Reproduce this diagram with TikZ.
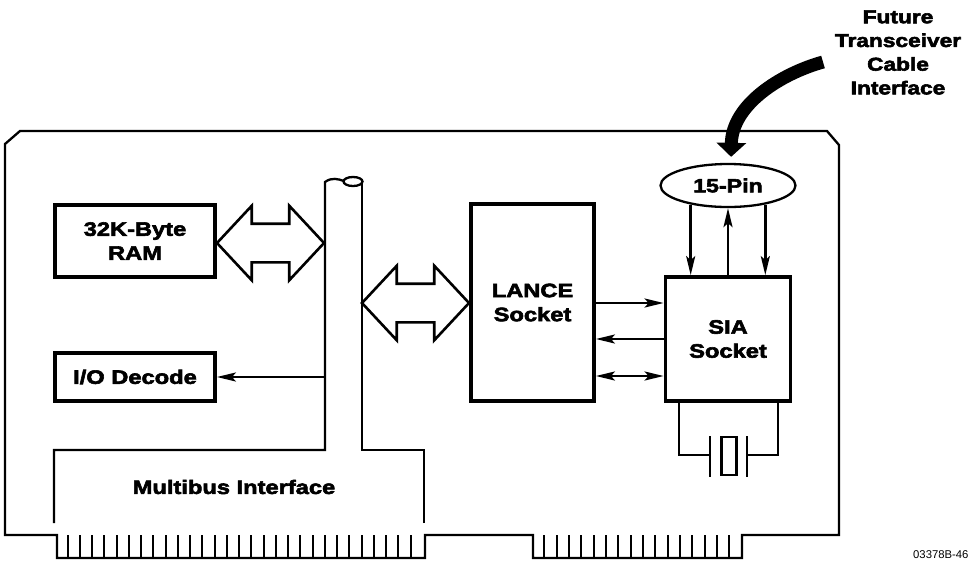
\documentclass[tikz,border=0pt]{standalone}
\usepackage{fontspec}
\setmainfont{Liberation Sans}[BoldFeatures={FakeBold=3,FakeStretch=1.22}]
\usetikzlibrary{arrows.meta,shapes.geometric,shapes.arrows}
\tikzset{
  block/.style={rectangle,draw=black,line width=3.8pt,fill=white,
                font=\fontsize{19.4}{24}\selectfont\bfseries,align=center},
  busarrow/.style={double arrow,draw=black,line width=2.6pt,fill=white,inner sep=0pt,
                   text height=36pt,text depth=0pt,
                   double arrow head extend=18pt,double arrow tip angle=94},
  sig/.style={line width=2.5pt,-{Stealth[length=19pt,width=9pt,inset=4pt]}},
  sigboth/.style={line width=2.5pt,{Stealth[length=19pt,width=9pt,inset=4pt]}-{Stealth[length=19pt,width=9pt,inset=4pt]}},
  edge/.style={line width=2.3pt,line join=miter},
  lead/.style={line width=2pt},
}
\begin{document}
\begin{tikzpicture}[x=1pt,y=-1pt]
  \useasboundingbox (0,0) rectangle (968,560);

  %% Board outline with the two edge tabs
  \draw[edge] (20,131) -- (827,131) -- (839,145) -- (839,535) -- (742,535)
    -- (742,558) -- (533,558) -- (533,535) -- (425,535) -- (425,558)
    -- (57,558) -- (57,535) -- (5,535) -- (5,144) -- cycle;

  %% Edge fingers
  \foreach \i in {0,...,28}
    \draw[lead] ({67.7+12.25*\i},535) -- ({67.7+12.25*\i},558);
  \foreach \i in {0,...,15}
    \draw[lead] ({544.3+12.33*\i},535) -- ({544.3+12.33*\i},558);

  %% Bus running up from the Multibus connector
  \draw[edge] (54,523) -- (54,450) -- (325,450) -- (325,182)
    .. controls (332,177) and (338,179) .. (344,181);
  \draw[edge] (424,523) -- (424,450) -- (362,450) -- (362,181);
  \draw[edge] (353,181.5) ellipse [x radius=9.5,y radius=4.5];

  %% Blocks
  \node[block,minimum width=160pt,minimum height=72pt] (ram) at (135,241) {32K-Byte\\RAM};
  \node[block,minimum width=160pt,minimum height=48pt] (iodec) at (135,377) {I/O Decode};
  \node[block,minimum width=123pt,minimum height=197pt] (lance) at (532.5,302.5) {LANCE\\Socket};
  \node[block,minimum width=125pt,minimum height=124pt] (sia) at (728,339) {SIA\\Socket};
  \node[ellipse,draw=black,line width=2.3pt,inner sep=0pt,minimum width=135pt,minimum height=43pt,
        font=\fontsize{19}{24}\selectfont\bfseries] (fifteen) at (728,185.5) {15-Pin};
  \node[font=\fontsize{19.4}{24}\selectfont\bfseries] (multibus) at (234,487) {Multibus Interface};

  %% Wide bus arrows
  \node[busarrow,minimum height=107pt,minimum width=74pt] (ramlink) at (270.5,243) {};
  \node[busarrow,minimum height=107pt,minimum width=74pt] (lancelink) at (415.5,303) {};

  %% Signals
  \draw[sig] (325,377) -- (iodec.east |- 325,377);
  \draw[sig] (lance.east |- 0,303) -- (sia.west |- 0,303);
  \draw[sig] (sia.west |- 0,339) -- (lance.east |- 0,339);
  \draw[sigboth] (lance.east |- 0,376) -- (sia.west |- 0,376);

  \draw[sig] (fifteen.207.5) -- (fifteen.207.5 |- sia.north);
  \draw[sig] (sia.north) -- (fifteen.south);
  \draw[sig] (fifteen.-27.5) -- (fifteen.-27.5 |- sia.north);

  %% Crystal
  \coordinate (plateL) at (710,455);
  \coordinate (plateR) at (747,455);
  \node[rectangle,draw=black,line width=2.8pt,minimum width=15pt,minimum height=38pt] (xtal) at (729,456) {};
  \draw[edge] (679,0 |- sia.south) |- (plateL);
  \draw[edge] (778,0 |- sia.south) |- (plateR);
  \draw[line width=2.6pt] (710,436) -- (plateL) -- (710,477);
  \draw[line width=2.6pt] (747,436) -- (plateR) -- (747,477);

  %% Future cable
  \node[font=\fontsize{18.6}{23.7}\selectfont\bfseries,align=center] (future) at (898,52.5) {Future\\Transceiver\\Cable\\Interface};
  \coordinate (cable) at (823,62);
  \draw[line width=13pt,shorten >=6pt,-{Triangle[length=14pt,width=29pt]}]
    (cable) .. controls (780,74) and (732,105) .. ([xshift=3pt]fifteen.north);

  \node[anchor=west,inner sep=0pt,font=\fontsize{11.3}{13}\selectfont] (partno) at (913,555) {03378B-46};

\end{tikzpicture}
\end{document}
